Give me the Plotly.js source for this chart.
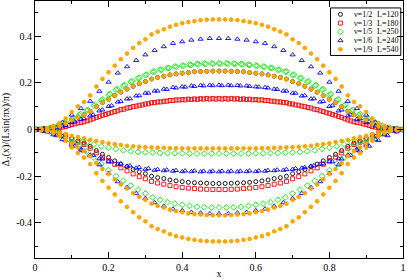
<!DOCTYPE html>
<html><head><meta charset="utf-8">
<script src="https://cdn.plot.ly/plotly-3.0.1.min.js"></script>
<style>html,body{margin:0;padding:0;background:#fff;}#chart{width:407px;height:279px;}</style>
</head><body><div id="chart"></div>
<script>
// x grids (step 1/(L*nu))
const x60 = [0,0.0167,0.0333,0.05,0.0667,0.0833,0.1,0.1167,0.1333,0.15,0.1667,0.1833,0.2,0.2167,0.2333,0.25,0.2667,0.2833,0.3,0.3167,0.3333,0.35,0.3667,0.3833,0.4,0.4167,0.4333,0.45,0.4667,0.4833,0.5,0.5167,0.5333,0.55,0.5667,0.5833,0.6,0.6167,0.6333,0.65,0.6667,0.6833,0.7,0.7167,0.7333,0.75,0.7667,0.7833,0.8,0.8167,0.8333,0.85,0.8667,0.8833,0.9,0.9167,0.9333,0.95,0.9667,0.9833,1];
const x60b = [0.0083,0.025,0.0417,0.0583,0.075,0.0917,0.1083,0.125,0.1417,0.1583,0.175,0.1917,0.2083,0.225,0.2417,0.2583,0.275,0.2917,0.3083,0.325,0.3417,0.3583,0.375,0.3917,0.4083,0.425,0.4417,0.4583,0.475,0.4917,0.5083,0.525,0.5417,0.5583,0.575,0.5917,0.6083,0.625,0.6417,0.6583,0.675,0.6917,0.7083,0.725,0.7417,0.7583,0.775,0.7917,0.8083,0.825,0.8417,0.8583,0.875,0.8917,0.9083,0.925,0.9417,0.9583,0.975,0.9917];
const x50 = [0,0.02,0.04,0.06,0.08,0.1,0.12,0.14,0.16,0.18,0.2,0.22,0.24,0.26,0.28,0.3,0.32,0.34,0.36,0.38,0.4,0.42,0.44,0.46,0.48,0.5,0.52,0.54,0.56,0.58,0.6,0.62,0.64,0.66,0.68,0.7,0.72,0.74,0.76,0.78,0.8,0.82,0.84,0.86,0.88,0.9,0.92,0.94,0.96,0.98,1];
const x50b = [0.004,0.024,0.044,0.064,0.084,0.104,0.124,0.144,0.164,0.184,0.204,0.224,0.244,0.264,0.284,0.304,0.324,0.344,0.364,0.384,0.404,0.424,0.444,0.464,0.484,0.504,0.524,0.544,0.564,0.584,0.604,0.624,0.644,0.664,0.684,0.704,0.724,0.744,0.764,0.784,0.804,0.824,0.844,0.864,0.884,0.904,0.924,0.944,0.964,0.984];
const x40 = [0,0.025,0.05,0.075,0.1,0.125,0.15,0.175,0.2,0.225,0.25,0.275,0.3,0.325,0.35,0.375,0.4,0.425,0.45,0.475,0.5,0.525,0.55,0.575,0.6,0.625,0.65,0.675,0.7,0.725,0.75,0.775,0.8,0.825,0.85,0.875,0.9,0.925,0.95,0.975,1];
const x40b = [0.008,0.033,0.058,0.083,0.108,0.133,0.158,0.183,0.208,0.233,0.258,0.283,0.308,0.333,0.358,0.383,0.408,0.433,0.458,0.483,0.508,0.533,0.558,0.583,0.608,0.633,0.658,0.683,0.708,0.733,0.758,0.783,0.808,0.833,0.858,0.883,0.908,0.933,0.958,0.983];

// nu=1/2, L=120 (black circles)
const k1 = [0,.001,.003,.008,.015,.025,.040,.053,.063,.078,.098,.115,.130,.145,.160,.173,.185,.196,.205,.216,.223,.228,.234,.238,.241,.244,.247,.248,.249,.250,.250,.250,.249,.248,.247,.244,.241,.238,.234,.228,.223,.216,.205,.196,.185,.173,.160,.145,.130,.115,.098,.078,.063,.053,.040,.025,.015,.008,.003,.001,0];
const k2 = [0,-.001,-.003,-.007,-.014,-.023,-.037,-.049,-.058,-.072,-.090,-.106,-.120,-.134,-.148,-.159,-.171,-.181,-.189,-.200,-.206,-.210,-.216,-.220,-.223,-.226,-.228,-.229,-.230,-.231,-.231,-.231,-.230,-.229,-.228,-.226,-.223,-.220,-.216,-.210,-.206,-.200,-.189,-.181,-.171,-.159,-.148,-.134,-.120,-.106,-.090,-.072,-.058,-.049,-.037,-.023,-.014,-.007,-.003,-.001,0];
// nu=1/3, L=180 (red squares)
const r1 = [0,.001,.002,.004,.008,.013,.021,.028,.033,.041,.052,.061,.069,.077,.085,.092,.098,.104,.109,.115,.118,.121,.124,.127,.128,.130,.131,.132,.133,.133,.133,.133,.133,.132,.131,.130,.128,.127,.124,.121,.118,.115,.109,.104,.098,.092,.085,.077,.069,.061,.052,.041,.033,.028,.021,.013,.008,.004,.002,.001,0];
const r1b = [.001,.002,.003,.006,.010,.017,.024,.030,.037,.046,.056,.064,.072,.080,.087,.094,.100,.105,.110,.115,.118,.121,.124,.126,.127,.128,.129,.130,.130,.130,.130,.130,.130,.129,.128,.127,.126,.124,.121,.118,.115,.110,.105,.100,.094,.087,.080,.072,.064,.056,.046,.037,.030,.024,.017,.010,.006,.003,.002,.001];
const r2 = [0,-.001,-.003,-.008,-.015,-.026,-.041,-.054,-.064,-.080,-.100,-.118,-.134,-.149,-.164,-.177,-.190,-.202,-.211,-.222,-.229,-.234,-.240,-.245,-.248,-.251,-.253,-.255,-.256,-.257,-.257,-.257,-.256,-.255,-.253,-.251,-.248,-.245,-.240,-.234,-.229,-.222,-.211,-.202,-.190,-.177,-.164,-.149,-.134,-.118,-.100,-.080,-.064,-.054,-.041,-.026,-.015,-.008,-.003,-.001,0];
// nu=1/5, L=250 (green diamonds)
const g1 = [0,.002,.007,.014,.028,.045,.062,.080,.102,.125,.148,.170,.187,.204,.219,.233,.247,.256,.264,.270,.274,.278,.281,.283,.284,.284,.284,.283,.281,.278,.274,.270,.264,.256,.247,.233,.219,.204,.187,.170,.148,.125,.102,.080,.062,.045,.028,.014,.007,.002,0];
const g1b = [.001,.003,.008,.016,.031,.048,.066,.084,.106,.129,.152,.173,.190,.206,.221,.235,.248,.256,.263,.268,.272,.276,.279,.280,.281,.281,.281,.280,.279,.276,.272,.268,.263,.256,.248,.235,.221,.206,.190,.173,.152,.129,.106,.084,.066,.048,.031,.016,.008,.003];
const g2 = [0,-.003,-.008,-.016,-.026,-.038,-.046,-.056,-.064,-.072,-.078,-.083,-.089,-.093,-.096,-.098,-.099,-.100,-.101,-.102,-.102,-.103,-.103,-.103,-.103,-.103,-.103,-.103,-.103,-.103,-.102,-.102,-.101,-.100,-.099,-.098,-.096,-.093,-.089,-.083,-.078,-.072,-.064,-.056,-.046,-.038,-.026,-.016,-.008,-.003,0];
const g3 = [0,-.003,-.008,-.017,-.033,-.053,-.073,-.094,-.120,-.147,-.174,-.200,-.220,-.240,-.257,-.274,-.291,-.301,-.311,-.317,-.322,-.327,-.331,-.333,-.334,-.334,-.334,-.333,-.331,-.327,-.322,-.317,-.311,-.301,-.291,-.274,-.257,-.240,-.220,-.200,-.174,-.147,-.120,-.094,-.073,-.053,-.033,-.017,-.008,-.003,0];
// nu=1/6, L=240 (blue triangles)
const b1 = [0,.004,.012,.031,.062,.090,.121,.164,.203,.242,.269,.296,.320,.339,.355,.369,.376,.383,.387,.390,.390,.390,.387,.383,.376,.369,.355,.339,.320,.296,.269,.242,.203,.164,.121,.090,.062,.031,.012,.004,0];
const b2 = [0,.002,.006,.015,.030,.044,.059,.080,.099,.118,.131,.144,.156,.165,.173,.180,.183,.187,.189,.190,.190,.190,.189,.187,.183,.180,.173,.165,.156,.144,.131,.118,.099,.080,.059,.044,.030,.015,.006,.002,0];
const b2b = [.001,.003,.008,.018,.033,.047,.063,.084,.102,.120,.132,.145,.156,.165,.172,.178,.182,.185,.187,.188,.188,.188,.187,.185,.182,.178,.172,.165,.156,.145,.132,.120,.102,.084,.063,.047,.033,.018,.008,.003];
const b3 = [0,-.007,-.022,-.043,-.067,-.089,-.109,-.125,-.138,-.148,-.157,-.165,-.170,-.174,-.176,-.178,-.180,-.180,-.181,-.181,-.181,-.181,-.181,-.180,-.180,-.178,-.176,-.174,-.170,-.165,-.157,-.148,-.138,-.125,-.109,-.089,-.067,-.043,-.022,-.007,0];
const b3b = [-.002,-.010,-.026,-.047,-.071,-.092,-.111,-.126,-.138,-.147,-.155,-.162,-.167,-.171,-.173,-.175,-.177,-.177,-.178,-.178,-.178,-.178,-.178,-.177,-.177,-.175,-.173,-.171,-.167,-.162,-.155,-.147,-.138,-.126,-.111,-.092,-.071,-.047,-.026,-.010];
const b4 = [0,-.004,-.011,-.029,-.058,-.083,-.112,-.151,-.187,-.223,-.248,-.274,-.295,-.313,-.328,-.340,-.347,-.354,-.357,-.360,-.360,-.360,-.357,-.354,-.347,-.340,-.328,-.313,-.295,-.274,-.248,-.223,-.187,-.151,-.112,-.083,-.058,-.029,-.011,-.004,0];
// nu=1/9, L=540 (orange dots)
const o1 = [0,.002,.006,.014,.028,.047,.075,.099,.118,.146,.184,.217,.245,.273,.301,.325,.349,.370,.386,.407,.419,.429,.440,.448,.455,.460,.464,.468,.470,.471,.471,.471,.470,.468,.464,.460,.455,.448,.440,.429,.419,.407,.386,.370,.349,.325,.301,.273,.245,.217,.184,.146,.118,.099,.075,.047,.028,.014,.006,.002,0];
const o2 = [0,.001,.003,.008,.015,.025,.040,.053,.063,.078,.098,.115,.130,.145,.160,.173,.185,.196,.205,.216,.223,.228,.234,.238,.241,.244,.247,.248,.249,.250,.250,.250,.249,.248,.247,.244,.241,.238,.234,.228,.223,.216,.205,.196,.185,.173,.160,.145,.130,.115,.098,.078,.063,.053,.040,.025,.015,.008,.003,.001,0];
const o3 = [0,-.002,-.004,-.008,-.013,-.019,-.027,-.032,-.038,-.044,-.049,-.054,-.059,-.063,-.066,-.070,-.072,-.074,-.076,-.077,-.078,-.079,-.080,-.080,-.081,-.081,-.081,-.081,-.081,-.081,-.081,-.081,-.081,-.081,-.081,-.081,-.081,-.080,-.080,-.079,-.078,-.077,-.076,-.074,-.072,-.070,-.066,-.063,-.059,-.054,-.049,-.044,-.038,-.032,-.027,-.019,-.013,-.008,-.004,-.002,0];
const o4 = [0,-.002,-.004,-.011,-.022,-.037,-.059,-.077,-.092,-.114,-.143,-.169,-.191,-.213,-.235,-.253,-.272,-.288,-.301,-.317,-.327,-.334,-.343,-.349,-.354,-.359,-.362,-.364,-.366,-.367,-.367,-.367,-.366,-.364,-.362,-.359,-.354,-.349,-.343,-.334,-.327,-.317,-.301,-.288,-.272,-.253,-.235,-.213,-.191,-.169,-.143,-.114,-.092,-.077,-.059,-.037,-.022,-.011,-.004,-.002,0];
const o5 = [0,-.002,-.006,-.014,-.029,-.048,-.077,-.101,-.120,-.148,-.187,-.220,-.249,-.278,-.307,-.331,-.354,-.376,-.393,-.414,-.426,-.436,-.448,-.456,-.462,-.468,-.472,-.476,-.478,-.479,-.479,-.479,-.478,-.476,-.472,-.468,-.462,-.456,-.448,-.436,-.426,-.414,-.393,-.376,-.354,-.331,-.307,-.278,-.249,-.220,-.187,-.148,-.120,-.101,-.077,-.048,-.029,-.014,-.006,-.002,0];

const seriesNu = ['ν=1/2','ν=1/3','ν=1/5','ν=1/6','ν=1/9'];
const seriesL = ['L=120','L=180','L=250','L=240','L=540'];
const xTickVals = [0,0.2,0.4,0.6,0.8,1];
const xTickText = ['0','0.2','0.4','0.6','0.8','1'];
const yTickVals = [-0.4,-0.2,0,0.2,0.4];
const yTickText = ['-0.4','-0.2','0','0.2','0.4'];

const styles = [
  {symbol:'circle-open', size:4, color:'#000000'},
  {symbol:'square-open', size:4, color:'#ff0000'},
  {symbol:'diamond-open', size:4.5, color:'#00ee00'},
  {symbol:'triangle-up-open', size:4.5, color:'#0000ff'},
  {symbol:'circle', size:3.8, color:'#ffa500'}
];
function mk(s){return {symbol:styles[s].symbol,size:styles[s].size,color:styles[s].color,line:{width:0.9,color:styles[s].color}};}
const groups = [
  [0,[[x60,k1],[x60,k2]]],
  [1,[[x60,r1],[x60b,r1b],[x60,r2]]],
  [2,[[x50,g1],[x50b,g1b],[x50,g2],[x50,g3]]],
  [3,[[x40,b1],[x40,b2],[x40b,b2b],[x40,b3],[x40b,b3b],[x40,b4]]],
  [4,[[x60,o1],[x60,o2],[x60,o3],[x60,o4],[x60,o5]]]
];
const traces = [];
groups.forEach(([s,list])=>{list.forEach(([xx,yy])=>{traces.push({type:'scatter',mode:'markers',x:xx,y:yy,marker:mk(s),showlegend:false,hoverinfo:'skip'});});});

// manual legend (paper-fraction positions on an overlay axis)
const legX = 0.830, legRows = [0.948,0.914,0.880,0.846,0.812];
styles.forEach((st,i)=>{traces.push({type:'scatter',mode:'markers',x:[legX],y:[legRows[i]],xaxis:'x2',yaxis:'y2',marker:mk(i),showlegend:false,hoverinfo:'skip'});});
const font = {family:'Liberation Serif, Times New Roman, serif', color:'#000'};
const annotations = [];
seriesNu.forEach((t,i)=>{
  annotations.push({xref:'paper',yref:'paper',x:0.862,y:legRows[i],text:t,showarrow:false,xanchor:'left',yanchor:'middle',font:Object.assign({size:8},font)});
  annotations.push({xref:'paper',yref:'paper',x:0.925,y:legRows[i],text:seriesL[i],showarrow:false,xanchor:'left',yanchor:'middle',font:Object.assign({size:8},font)});
});

const axBase = {showgrid:false,zeroline:false,showline:true,linecolor:'#000',linewidth:1,mirror:'allticks',ticks:'inside',ticklen:6,tickcolor:'#000',tickwidth:1,tickfont:Object.assign({size:10},font)};
const layout = {
  width:407,height:279,margin:{l:35,r:4,t:1,b:21},
  paper_bgcolor:'#fff',plot_bgcolor:'#fff',showlegend:false,
  xaxis:Object.assign({},axBase,{range:[0,1],tickmode:'array',tickvals:xTickVals,ticktext:xTickText,
     minor:{tickmode:'array',tickvals:[0.1,0.3,0.5,0.7,0.9],ticks:'inside',ticklen:3,tickcolor:'#000'},
     title:{text:'x',font:Object.assign({size:10},font),standoff:2}}),
  yaxis:Object.assign({},axBase,{range:[-0.55,0.55],tickmode:'array',tickvals:yTickVals,ticktext:yTickText,
     minor:{tickmode:'array',tickvals:[-0.5,-0.3,-0.1,0.1,0.3,0.5],ticks:'inside',ticklen:3,tickcolor:'#000'},
     title:{text:'Δ<sub>2</sub>(x)/(Lsin(πx)/π)',font:Object.assign({size:10},font),standoff:4}}),
  xaxis2:{overlaying:'x',range:[0,1],visible:false,anchor:'y2'},
  yaxis2:{overlaying:'y',range:[0,1],visible:false,anchor:'x2'},
  shapes:[{type:'rect',xref:'paper',yref:'paper',x0:0.803,x1:0.994,y0:0.788,y1:0.973,line:{color:'#000',width:1},fillcolor:'#fff',layer:'below'}],
  annotations:annotations
};
Plotly.newPlot('chart',traces,layout,{staticPlot:true,displayModeBar:false});
</script></body></html>
